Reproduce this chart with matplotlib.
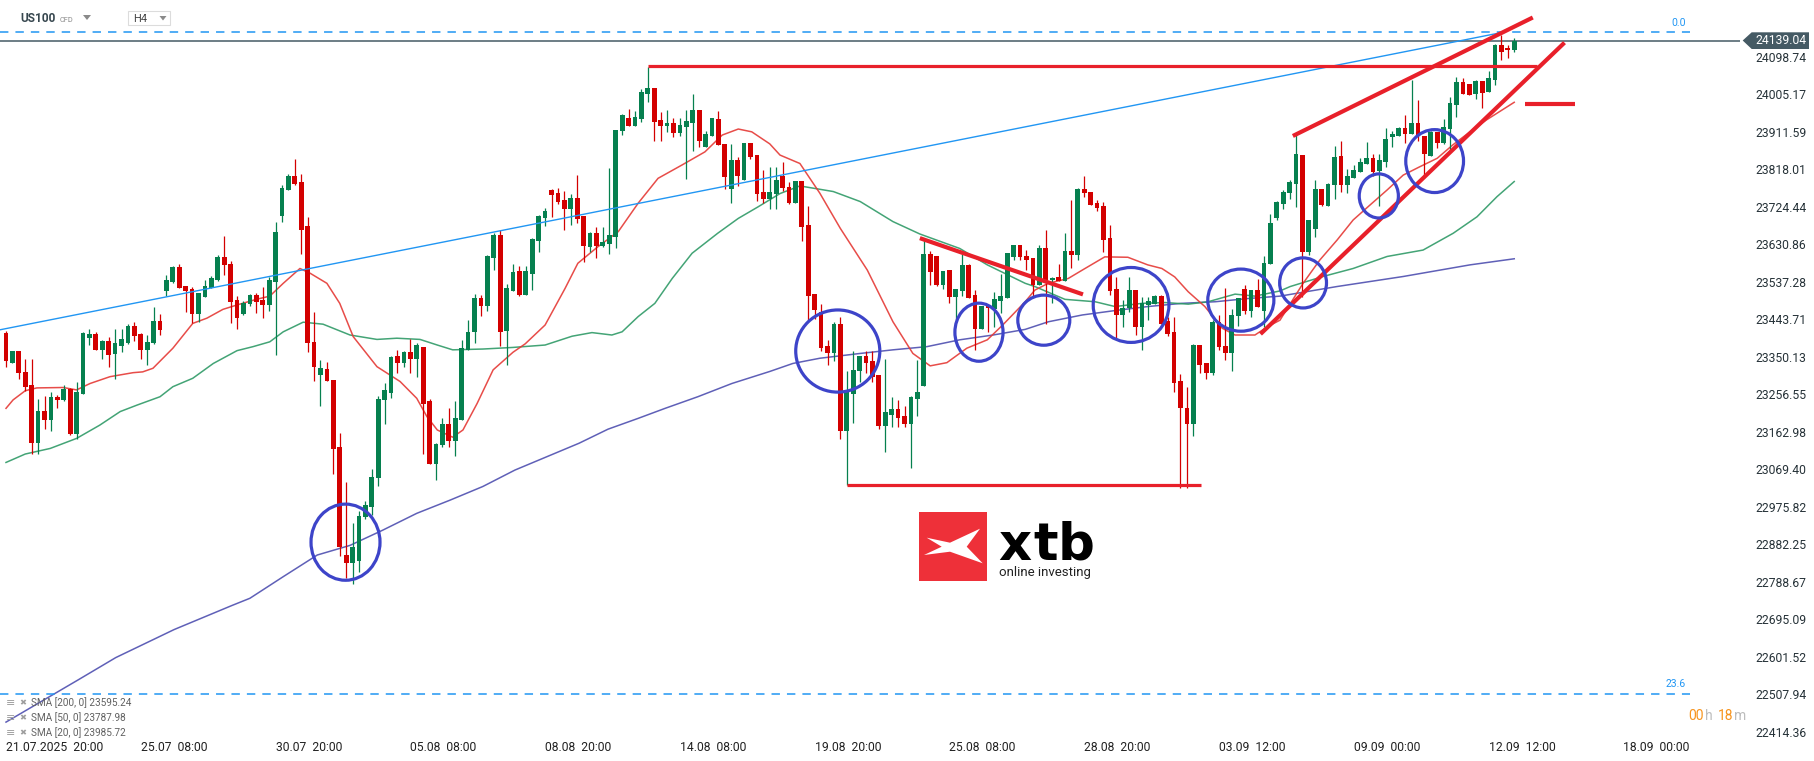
import matplotlib
matplotlib.use("Agg")
import matplotlib.pyplot as plt
from matplotlib.patches import Ellipse, Polygon, Rectangle
import numpy as np

plt.rcParams['font.family'] = ['Roboto', 'DejaVu Sans']

# ---------------- data (US100 CFD, H4) ----------------
opens = [23411, 23334, 23365, 23313, 23280, 23136, 23215, 23193, 23250, 23244,
         23270, 23158, 23259, 23398, 23408, 23368, 23390, 23358, 23378, 23385,
         23428, 23408, 23368, 23385, 23440, 23516, 23537, 23575, 23527, 23520,
         23458, 23501, 23523, 23542, 23600, 23582, 23492, 23458, 23482, 23505,
         23493, 23481, 23537, 23703, 23768, 23802, 23787, 23677, 23388, 23304,
         23320, 23293, 23126, 22856, 22837, 22842, 22952, 22977, 23049, 23244,
         23261, 23353, 23335, 23363, 23344, 23376, 23240, 23083, 23131, 23183,
         23141, 23193, 23368, 23413, 23498, 23477, 23598, 23655, 23415, 23516,
         23565, 23505, 23558, 23640, 23698, 23767, 23759, 23742, 23720, 23747,
         23703, 23625, 23660, 23628, 23632, 23650, 23915, 23947, 23927, 23945,
         24007, 24021, 23942, 23927, 23934, 23910, 23924, 23935, 23967, 23875,
         23902, 23944, 23882, 23770, 23842, 23793, 23884, 23854, 23763, 23745,
         23756, 23803, 23774, 23734, 23789, 23680, 23507, 23462, 23378, 23361,
         23433, 23166, 23259, 23316, 23353, 23341, 23304, 23179, 23205, 23220,
         23203, 23183, 23246, 23279, 23607, 23602, 23531, 23567, 23501, 23516,
         23580, 23505, 23421, 23478, 23471, 23491, 23498, 23600, 23630, 23602,
         23597, 23531, 23622, 23542, 23550, 23540, 23615, 23605, 23769, 23762,
         23734, 23727, 23647, 23520, 23456, 23473, 23517, 23426, 23481, 23483,
         23503, 23440, 23413, 23290, 23224, 23184, 23380, 23335, 23311, 23437,
         23378, 23361, 23453, 23520, 23466, 23517, 23466, 23581, 23698, 23733,
         23760, 23783, 23854, 23611, 23670, 23769, 23728, 23780, 23852, 23780,
         23797, 23812, 23832, 23847, 23814, 23837, 23898, 23902, 23922, 23907,
         23934, 23902, 23852, 23912, 23884, 23919, 23980, 24036, 24031, 24006,
         24039, 24011, 24041, 24129, 24121, 24115]
highs = [23415, 23365, 23365, 23345, 23345, 23245, 23254, 23263, 23255, 23280,
         23272, 23288, 23413, 23420, 23413, 23393, 23400, 23420, 23420, 23433,
         23438, 23410, 23405, 23475, 23458, 23555, 23577, 23582, 23527, 23525,
         23511, 23542, 23552, 23604, 23652, 23590, 23503, 23491, 23507, 23510,
         23524, 23551, 23687, 23779, 23808, 23844, 23808, 23699, 23462, 23343,
         23338, 23293, 23160, 23038, 22935, 22966, 22991, 23071, 23252, 23284,
         23353, 23368, 23366, 23394, 23386, 23376, 23245, 23136, 23197, 23224,
         23240, 23393, 23442, 23507, 23505, 23605, 23660, 23667, 23532, 23581,
         23577, 23577, 23647, 23705, 23722, 23769, 23772, 23764, 23757, 23804,
         23703, 23663, 23675, 23675, 23822, 23917, 23957, 23969, 23964, 24019,
         24075, 24021, 23962, 23967, 23947, 23947, 23967, 24006, 23967, 23914,
         23947, 23964, 23882, 23882, 23849, 23884, 23884, 23854, 23817, 23824,
         23823, 23836, 23787, 23789, 23789, 23727, 23507, 23482, 23393, 23438,
         23451, 23314, 23366, 23353, 23366, 23366, 23304, 23346, 23250, 23243,
         23228, 23253, 23343, 23645, 23615, 23602, 23564, 23567, 23520, 23607,
         23582, 23517, 23478, 23478, 23513, 23557, 23610, 23630, 23630, 23617,
         23597, 23629, 23667, 23550, 23582, 23660, 23742, 23772, 23802, 23762,
         23742, 23737, 23680, 23550, 23492, 23550, 23517, 23500, 23500, 23506,
         23506, 23451, 23451, 23308, 23275, 23383, 23380, 23335, 23442, 23455,
         23522, 23470, 23497, 23530, 23517, 23545, 23602, 23707, 23739, 23768,
         23792, 23904, 23854, 23692, 23792, 23769, 23784, 23877, 23889, 23819,
         23829, 23847, 23887, 23857, 23857, 23922, 23914, 23924, 23954, 24041,
         23992, 23902, 23914, 23912, 23944, 23999, 24049, 24046, 24031, 24041,
         24039, 24064, 24131, 24154, 24129, 24146]
lows = [23326, 23334, 23294, 23266, 23108, 23107, 23170, 23166, 23224, 23241,
        23156, 23146, 23259, 23381, 23368, 23346, 23326, 23296, 23363, 23383,
        23391, 23346, 23329, 23383, 23405, 23503, 23536, 23523, 23462, 23436,
        23438, 23501, 23523, 23540, 23555, 23436, 23421, 23456, 23478, 23461,
        23448, 23466, 23356, 23688, 23768, 23779, 23608, 23363, 23289, 23229,
        23289, 23059, 22854, 22798, 22783, 22814, 22945, 22955, 23027, 23184,
        23249, 23311, 23324, 23311, 23301, 23109, 23083, 23042, 23126, 23126,
        23104, 23193, 23368, 23384, 23453, 23466, 23567, 23378, 23329, 23516,
        23502, 23505, 23518, 23613, 23678, 23700, 23732, 23668, 23680, 23685,
        23588, 23611, 23596, 23625, 23608, 23623, 23905, 23927, 23927, 23937,
        23987, 23888, 23890, 23912, 23900, 23902, 23795, 23865, 23873, 23873,
        23902, 23878, 23770, 23735, 23778, 23793, 23843, 23740, 23735, 23720,
        23720, 23764, 23731, 23734, 23640, 23442, 23446, 23366, 23331, 23341,
        23145, 23031, 23186, 23287, 23309, 23287, 23171, 23114, 23175, 23176,
        23176, 23074, 23204, 23279, 23531, 23528, 23520, 23485, 23443, 23503,
        23497, 23368, 23421, 23413, 23425, 23459, 23498, 23592, 23591, 23568,
        23501, 23531, 23433, 23486, 23540, 23540, 23573, 23592, 23749, 23729,
        23714, 23613, 23506, 23398, 23426, 23463, 23406, 23368, 23443, 23483,
        23433, 23403, 23264, 23022, 23022, 23154, 23309, 23296, 23306, 23368,
        23343, 23316, 23428, 23458, 23451, 23476, 23426, 23581, 23693, 23720,
        23745, 23725, 23501, 23604, 23650, 23728, 23728, 23745, 23763, 23760,
        23797, 23812, 23832, 23802, 23728, 23824, 23874, 23902, 23884, 23907,
        23889, 23798, 23852, 23872, 23882, 23867, 23950, 24006, 24004, 23994,
        23972, 24011, 24029, 24092, 24095, 24112]
closes = [23341, 23365, 23309, 23276, 23136, 23215, 23193, 23250, 23244, 23270,
          23158, 23263, 23410, 23408, 23368, 23390, 23356, 23385, 23395, 23428,
          23403, 23368, 23388, 23440, 23418, 23542, 23575, 23523, 23516, 23458,
          23511, 23527, 23547, 23600, 23580, 23488, 23448, 23486, 23505, 23488,
          23481, 23542, 23662, 23772, 23802, 23783, 23668, 23386, 23324, 23323,
          23289, 23121, 22875, 22837, 22877, 22953, 22980, 23051, 23246, 23268,
          23350, 23335, 23363, 23344, 23380, 23233, 23083, 23134, 23183, 23141,
          23198, 23373, 23413, 23498, 23477, 23602, 23655, 23413, 23522, 23562,
          23505, 23565, 23645, 23703, 23714, 23755, 23738, 23720, 23747, 23695,
          23628, 23660, 23628, 23637, 23655, 23917, 23954, 23927, 23949, 24011,
          24021, 23937, 23927, 23934, 23910, 23929, 23939, 23967, 23890, 23907,
          23947, 23878, 23800, 23842, 23803, 23884, 23850, 23758, 23745, 23762,
          23792, 23771, 23734, 23789, 23675, 23503, 23468, 23373, 23361, 23433,
          23166, 23267, 23318, 23353, 23336, 23299, 23179, 23213, 23220, 23199,
          23183, 23250, 23263, 23607, 23563, 23531, 23564, 23501, 23520, 23580,
          23497, 23421, 23478, 23472, 23495, 23503, 23610, 23630, 23599, 23593,
          23531, 23622, 23542, 23547, 23540, 23615, 23605, 23769, 23759, 23729,
          23722, 23643, 23516, 23456, 23473, 23517, 23426, 23485, 23490, 23503,
          23433, 23408, 23286, 23224, 23184, 23380, 23331, 23311, 23437, 23376,
          23361, 23455, 23497, 23466, 23517, 23476, 23585, 23685, 23737, 23763,
          23787, 23857, 23611, 23692, 23769, 23730, 23782, 23849, 23780, 23802,
          23817, 23837, 23847, 23812, 23842, 23894, 23907, 23922, 23907, 23934,
          23902, 23857, 23912, 23884, 23924, 23984, 24036, 24006, 24004, 24039,
          24009, 24046, 24129, 24110, 24115, 24139.04]

# moving averages (candle position, value)
sma20_pos = [0, 1.1, 3.0, 4.8, 8.9, 11.0, 13.1, 16.2, 19.8, 21.3, 22.9, 26.0, 29.1, 31.3, 33.8,
             36.0, 39.0, 41.1, 43.2, 45.8, 47.4, 50.0, 52.0, 54.1, 57.8, 61.4, 64.0, 65.6, 67.2,
             69.6, 71.2, 73.4, 75.9, 79.0, 80.9, 84.0, 87.1, 89.1, 92.2, 95.4, 98.5, 101.6, 105.3,
             108.9, 111.6, 114.1, 116.2, 119.0, 120.6, 123.7, 126.8, 130.0, 134.2, 138.2, 141.3,
             144.0, 146.6, 149.7, 152.9, 155.3, 158.8, 160.3, 162.4, 165.5, 167.7, 171.2, 174.8,
             177.9, 180.1, 182.1, 184.2, 186.8, 189.5, 191.5, 194.6, 196.6, 198.5, 202.1, 204.7,
             207.4, 209.9, 212.5, 215.2, 217.7, 220.3, 223.0, 225.4, 228.1, 230.7, 235]
sma20_val = [23222, 23243, 23266, 23273, 23274, 23268, 23284, 23301, 23311, 23313, 23322, 23372,
             23434, 23447, 23469, 23480, 23494, 23502, 23534, 23571, 23559, 23534, 23484, 23401,
             23326, 23289, 23247, 23201, 23168, 23150, 23168, 23234, 23318, 23362, 23383, 23430,
             23521, 23584, 23625, 23663, 23734, 23796, 23829, 23862, 23904, 23919, 23912, 23882,
             23854, 23833, 23759, 23671, 23567, 23438, 23359, 23328, 23336, 23372, 23393, 23430,
             23488, 23517, 23534, 23546, 23567, 23600, 23599, 23580, 23571, 23550, 23513, 23476,
             23422, 23405, 23405, 23426, 23442, 23534, 23592, 23642, 23692, 23729, 23767, 23804,
             23825, 23846, 23879, 23912, 23942, 23985.72]
sma50_pos = [0, 3.0, 6.9, 11.0, 14.6, 17.8, 20.4, 24.0, 26.0, 29.1, 32.3, 36.0, 38.5, 41.1, 43.2,
             46.3, 49.4, 53.6, 57.8, 60.9, 64.5, 67.2, 69.6, 74.3, 79.0, 84.0, 88.2, 91.3, 94.4,
             96.0, 98.5, 101.1, 103.8, 106.9, 110.9, 114.1, 117.2, 120.6, 123.7, 128.9, 133.1,
             138.2, 142.4, 148.6, 152.9, 158.8, 160.3, 165.0, 169.7, 172.8, 177.0, 180.6, 184.2,
             187.3, 191.5, 194.6, 198.5, 200.1, 205.2, 209.9, 215.2, 220.8, 225.5, 229.2, 232.3, 235]
sma50_val = [23087, 23108, 23122, 23147, 23180, 23214, 23230, 23251, 23276, 23297, 23334, 23366,
             23376, 23388, 23413, 23437, 23432, 23405, 23394, 23397, 23394, 23380, 23368, 23370,
             23374, 23380, 23402, 23411, 23405, 23413, 23451, 23484, 23546, 23609, 23659, 23696,
             23725, 23758, 23777, 23763, 23738, 23688, 23657, 23621, 23580, 23534, 23526, 23494,
             23488, 23476, 23484, 23486, 23482, 23488, 23507, 23502, 23515, 23526, 23551, 23571,
             23601, 23617, 23659, 23700, 23750, 23787.98]
sma200_pos = [0, 11.2, 17.1, 26.2, 35.2, 38.0, 43.2, 48.5, 53.6, 58.7, 64.0, 69.2, 74.3, 79.3,
              89.3, 93.8, 98.5, 102.7, 107.8, 113.1, 119.0, 122.6, 126.8, 133.1, 138.2, 143.5,
              148.6, 153.8, 158.8, 162.4, 167.7, 172.8, 177.9, 183.2, 188.4, 193.5, 198.5, 207.4,
              217.7, 228.1, 235]
sma200_val = [22439, 22544, 22600, 22670, 22730, 22748, 22802, 22856, 22880, 22918, 22960, 22993,
              23027, 23068, 23135, 23170, 23197, 23222, 23251, 23284, 23314, 23334, 23347, 23359,
              23368, 23376, 23393, 23405, 23419, 23438, 23455, 23466, 23476, 23484, 23488, 23496,
              23502, 23526, 23551, 23580, 23595.24]

price_ticks = [24098.74, 24005.17, 23911.59, 23818.01, 23724.44, 23630.86, 23537.28, 23443.71,
               23350.13, 23256.55, 23162.98, 23069.40, 22975.82, 22882.25, 22788.67, 22695.09,
               22601.52, 22507.94, 22414.36]
date_pos = [0, 21, 42, 63, 84, 105, 126, 147, 168, 189, 210, 231, 252]
date_labels = ["21.07.2025  20:00", "25.07  08:00", "30.07  20:00", "05.08  08:00",
               "08.08  20:00", "14.08  08:00", "19.08  20:00", "25.08  08:00",
               "28.08  20:00", "03.09  12:00", "09.09  00:00", "12.09  12:00", "18.09  00:00"]
last_price = 24139.04
fib_levels = [24160.4, 22510.0]
fib_labels = ["0.0", "23.6"]

# analysis drawings (candle position, price)
trend_blue = ([-0.935, 232.8], [23418, 24159])
res_line = ([100, 238.5], [24076, 24076])
sup_line = ([131, 186.2], [23030, 23030])
down_line = ([142.7, 167.5], [23645, 23508])
wedge_up = ([200.8, 237.6], [23904, 24195])
wedge_lo = ([195.7, 242.6], [23411, 24131])
dash_line = ([236.7, 244.5], [23981, 23981])
circ_pos = [52.9, 129.6, 151.6, 161.7, 175.3, 192.4, 202.1, 213.9, 222.6]
circ_price = [22888, 23365, 23412, 23442, 23480, 23492, 23535, 23752, 23839]
circ_w = [10.75, 13.1, 7.5, 8.1, 11.8, 10.3, 7.3, 6.1, 9.0]
circ_h = [190, 205, 145, 125, 187, 155, 125, 110, 157]

# ---------------- figure ----------------
W, H = 1815, 761
fig = plt.figure(figsize=(W / 100, H / 100), dpi=100)
fig.patch.set_facecolor("white")


def F(x, y):
    return (x / W, 1 - y / H)


AX_R, AX_B = 1740, 738
ax = fig.add_axes([0, 1 - AX_B / H, AX_R / W, AX_B / H])
STEP, X0 = 6.418, 6.0
ax.set_xlim(-X0 / STEP, (AX_R - X0) / STEP)
ax.set_ylim(22399.37, 24240.98)
for s in ax.spines.values():
    s.set_visible(False)
ax.set_facecolor("white")

GREEN, RED = "#06804f", "#d30000"
o, h, l, c = map(np.array, (opens, highs, lows, closes))
idx = np.arange(len(c))
cols = np.where(c >= o, GREEN, RED)
ax.vlines(idx, l, h, colors=cols, lw=0.9, zorder=3)
ax.bar(idx, np.maximum(np.abs(c - o), 2.0), bottom=np.minimum(o, c), width=0.74,
       color=cols, linewidth=0, zorder=4)

# moving averages
ax.plot(sma200_pos, sma200_val, color="#4e4fb0", lw=1.1, alpha=0.9, zorder=2)
ax.plot(sma50_pos, sma50_val, color="#2f9a67", lw=1.1, alpha=0.9, zorder=2)
ax.plot(sma20_pos, sma20_val, color="#e53935", lw=1.1, alpha=0.9, zorder=2)

# fibonacci levels
for lv in fib_levels:
    ax.plot([-0.935, 262.4], [lv, lv], color="#2196f3", lw=1.1, ls=(0, (5.5, 4.6)), zorder=2)

# current price line
ax.axhline(last_price, color="#455a64", lw=1.1, zorder=2)

# drawings
ax.plot(*trend_blue, color="#2196f3", lw=1.0, zorder=5)
RL = "#e8202a"
ax.plot(*res_line, color=RL, lw=2.3, zorder=6, solid_capstyle="butt")
ax.plot(*sup_line, color=RL, lw=2.3, zorder=6, solid_capstyle="butt")
ax.plot(*down_line, color=RL, lw=3.0, zorder=6)
ax.plot(*wedge_up, color=RL, lw=3.0, zorder=6)
ax.plot(*wedge_lo, color=RL, lw=3.0, zorder=6)
ax.plot(*dash_line, color=RL, lw=3.0, zorder=6, solid_capstyle="butt")
for cx, cy, cw, ch in zip(circ_pos, circ_price, circ_w, circ_h):
    ax.add_patch(Ellipse((cx, cy), cw, ch, fill=False, ec="#3d44c9", lw=2.3, zorder=7))

# axes ticks
ax.yaxis.tick_right()
ax.set_yticks(price_ticks)
ax.set_yticklabels([f"{v:.2f}" for v in price_ticks])
ax.tick_params(axis="y", length=0, pad=10.8, labelsize=8.7, labelcolor="#263238")
ax.set_xticks(date_pos)
ax.set_xticklabels(date_labels)
for lbl in ax.get_xticklabels():
    lbl.set_horizontalalignment("left")
ax.tick_params(axis="x", length=0, pad=2.0, labelsize=8.7, labelcolor="#212121")

# price box
fig.patches.append(Polygon([F(1742.7, 40.5), F(1751.7, 32.3), F(1809, 32.3), F(1809, 49),
                            F(1751.7, 49)], closed=True, transform=fig.transFigure,
                           fc="#455a64", ec="none", zorder=10))
fig.text(*F(1755, 41), f"{last_price:.2f}", color="white", fontsize=8.7, va="center",
         ha="left", zorder=11)

# fib labels
fig.text(*F(1679, 23), fib_labels[0], color="#2196f3", fontsize=7.5, ha="center", va="center")
fig.text(*F(1676, 684), fib_labels[1], color="#2196f3", fontsize=7.5, ha="center", va="center")

# timer
for txt, x, col in [("00", 1688, "#f7941d"), ("h", 1705, "#bdbdbd"),
                    ("18", 1718, "#f7941d"), ("m", 1734, "#bdbdbd")]:
    fig.text(*F(x, 716), txt, color=col, fontsize=10, ha="left", va="center")

# header
fig.text(*F(20, 19), "US100", fontsize=8.6, fontweight="bold", color="#37474f", va="center")
fig.text(*F(60, 20), "CFD", fontsize=5.3, color="#8a8a8a", va="center")
fig.patches.append(Polygon([F(83, 15), F(91, 15), F(87, 20)], closed=True,
                           transform=fig.transFigure, fc="#8a8a8a", ec="none"))
fig.patches.append(Rectangle(F(127.7, 25.3), 42.6 / W, 14.6 / H, transform=fig.transFigure,
                             fc="white", ec="#dcdcdc", lw=0.8))
fig.text(*F(133, 19.5), "H4", fontsize=8, color="#444444", va="center")
fig.patches.append(Polygon([F(159.5, 16), F(166.5, 16), F(163, 20.5)], closed=True,
                           transform=fig.transFigure, fc="#8a8a8a", ec="none"))

# SMA legend
leg = [("SMA [200, 0] 23595.24", 703), ("SMA [50, 0] 23787.98", 718),
       ("SMA [20, 0] 23985.72", 733)]
for txt, y in leg:
    fig.text(*F(6, y), "\u2261", fontsize=8, color="#9e9e9e", va="center",
             family=["DejaVu Sans"])
    fig.text(*F(19, y), "\u2716", fontsize=6, color="#9e9e9e", va="center",
             family=["DejaVu Sans"])
    fig.text(*F(31, y), txt, fontsize=7.2, color="#616161", va="center")

# logo
fig.patches.append(Rectangle(F(919, 581), 68 / W, 69 / H, transform=fig.transFigure,
                             fc="#ee3039", ec="none", zorder=8))
xs = [(926.7, 537.7), (950, 542.7), (980, 528.7), (966.7, 546.7), (982.7, 563.3),
      (950, 551.7), (924, 555), (941.7, 546.7)]
fig.patches.append(Polygon([F(*p) for p in xs], closed=True, transform=fig.transFigure,
                           fc="white", ec="none", zorder=9))
for ch_, xx in [("x", 998), ("t", 1033), ("b", 1058)]:
    fig.text(*F(xx, 560), ch_, fontsize=37, fontweight="bold", color="black",
             va="baseline", family=["DejaVu Sans"], zorder=9)
fig.text(*F(999, 576), "online investing", fontsize=9.5, color="#222222", va="baseline",
         zorder=9)

fig.savefig("out.png", dpi=100, facecolor="white")
